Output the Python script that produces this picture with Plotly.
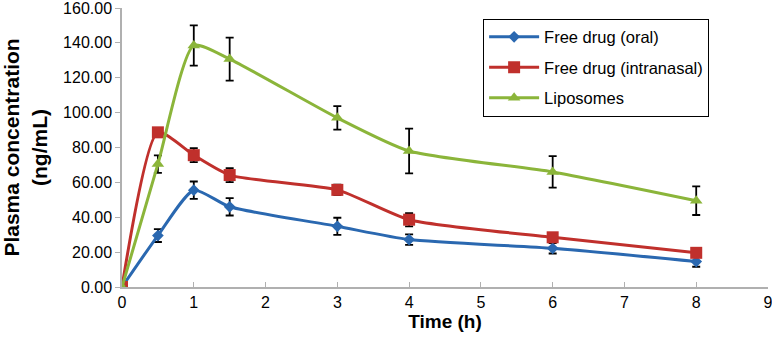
import plotly.graph_objects as go

time_h = [0, 0.5, 1, 1.5, 3, 4, 6, 8]
oral = [0, 29.5, 55.5, 46, 34.8, 27.2, 22.2, 14.6]
oral_err = [0, 3.7, 5, 5, 4.9, 3, 3, 3]
intranasal = [0, 88.7, 75.6, 64.2, 55.7, 38.6, 28.5, 19.6]
intranasal_err = [0, 2, 4, 4, 3, 3.8, 2, 2]
liposomes = [0, 70.5, 138.5, 130.7, 97, 78, 66, 49.5]
liposomes_err = [0, 5, 11.5, 12.3, 6.7, 12.8, 9, 8.2]
names = ["Free drug (oral)", "Free drug (intranasal)", "Liposomes"]
colors = ["#2a68b0", "#c0302c", "#8bb53a"]
symbols = ["diamond", "square", "triangle-up"]
sizes = [9, 12, 11]
y_ticks = [0, 20, 40, 60, 80, 100, 120, 140, 160]
x_ticks = list(range(0, 10))

fig = go.Figure()
for ys, errs, name, c, s, sz in zip([oral, intranasal, liposomes],
                                   [oral_err, intranasal_err, liposomes_err],
                                   names, colors, symbols, sizes):
    fig.add_trace(go.Scatter(
        x=time_h, y=ys, name=name, legendgroup=name, mode="lines+markers",
        line=dict(color=c, width=3, shape="spline", smoothing=0.6),
        marker=dict(symbol=s, size=sz, color=c),
        error_y=dict(type="data", array=errs, visible=True, color="black",
                     thickness=1.8, width=4),
    ))

font = "Liberation Sans, Arial, sans-serif"
fig.update_layout(
    width=772, height=347,
    margin=dict(l=122, r=4, t=8, b=60),
    plot_bgcolor="white", paper_bgcolor="white",
    font=dict(family=font, size=16, color="black"),
    showlegend=True,
    legend=dict(x=0.559, y=0.962, xanchor="left", yanchor="top",
                bordercolor="black", borderwidth=1, bgcolor="white",
                font=dict(size=16.5), itemwidth=50, tracegroupgap=6),
    xaxis=dict(range=[0, 9], tickvals=x_ticks, showgrid=False, zeroline=False,
               automargin=False, ticklabeloverflow="allow",
               showline=True, linecolor="#b0b0b0", linewidth=1.5,
               ticks="inside", ticklen=5, tickcolor="#b0b0b0",
               tickfont=dict(size=16),
               title=dict(text="<b>Time (h)</b>", font=dict(size=19), standoff=5)),
    yaxis=dict(range=[0, 160], tickvals=y_ticks,
               ticktext=[f"{v:.2f}" for v in y_ticks],
               showgrid=False, zeroline=False, automargin=False,
               ticklabeloverflow="allow",
               showline=True, linecolor="#b0b0b0", linewidth=1.5,
               ticks="outside", ticklen=5, tickcolor="#b0b0b0",
               tickfont=dict(size=16),
               title=dict(text="<b>Plasma concentration<br>(ng/mL)</b>",
                          font=dict(size=21), standoff=10)),
)
fig.write_html("out.html", config={"displayModeBar": False},
               post_script="document.body.style.margin='0';")
